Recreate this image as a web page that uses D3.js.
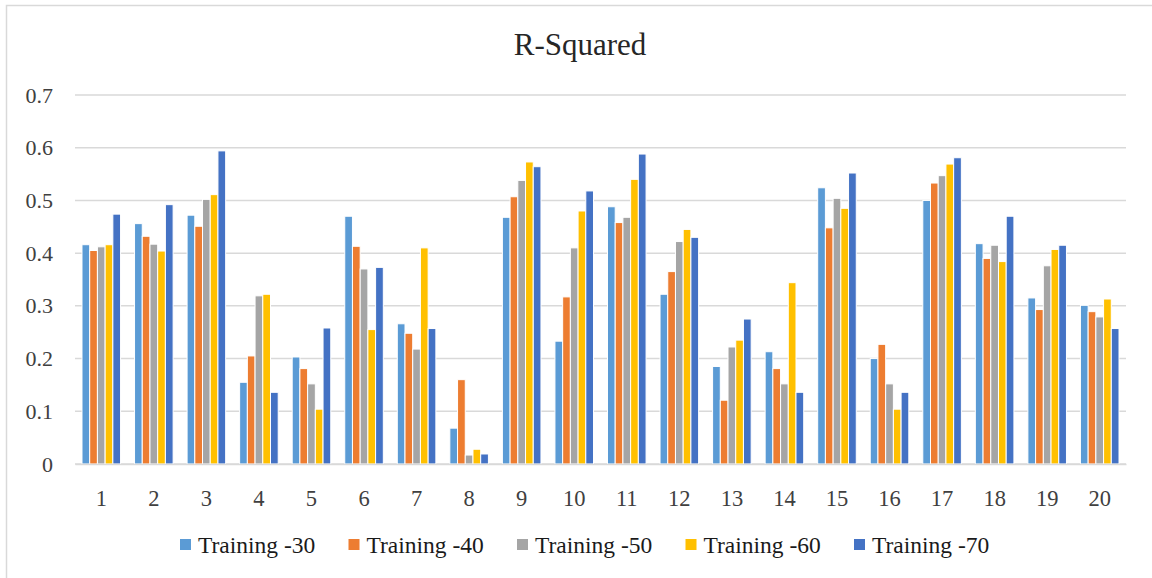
<!DOCTYPE html>
<html>
<head>
<meta charset="utf-8">
<script src="https://cdn.jsdelivr.net/npm/d3@7/dist/d3.min.js"></script>
<style>
  html, body { margin: 0; padding: 0; background: #fff; }
  svg { display: block; }
  text { font-family: "Times New Roman", "Liberation Serif", serif; }
</style>
</head>
<body>
<svg id="chart" width="1152" height="578"></svg>
<script>
// Run labels along the x axis
const categories = ["1","2","3","4","5","6","7","8","9","10","11","12","13","14","15","16","17","18","19","20"];

// Series names shown in the legend
const seriesNames = ["Training -30", "Training -40", "Training -50", "Training -60", "Training -70"];

// R-squared per run, one array per training split
const training30 = [0.416, 0.456, 0.472, 0.155, 0.203, 0.470, 0.266, 0.068, 0.468, 0.233, 0.488, 0.322, 0.185, 0.213, 0.524, 0.200, 0.500, 0.418, 0.315, 0.301];
const training40 = [0.405, 0.432, 0.451, 0.205, 0.181, 0.413, 0.248, 0.160, 0.507, 0.317, 0.458, 0.365, 0.121, 0.181, 0.448, 0.227, 0.533, 0.390, 0.293, 0.289];
const training50 = [0.412, 0.417, 0.502, 0.319, 0.152, 0.370, 0.218, 0.017, 0.538, 0.410, 0.468, 0.422, 0.222, 0.152, 0.504, 0.152, 0.547, 0.415, 0.376, 0.279];
const training60 = [0.416, 0.404, 0.511, 0.322, 0.104, 0.255, 0.410, 0.028, 0.573, 0.480, 0.540, 0.445, 0.235, 0.344, 0.485, 0.104, 0.569, 0.384, 0.407, 0.313];
const training70 = [0.474, 0.492, 0.594, 0.136, 0.258, 0.373, 0.257, 0.019, 0.564, 0.518, 0.588, 0.430, 0.275, 0.136, 0.552, 0.136, 0.581, 0.470, 0.415, 0.257];

// Y axis ticks and their labels
const yTicks = [0, 0.1, 0.2, 0.3, 0.4, 0.5, 0.6, 0.7];
const yTickLabels = ["0", "0.1", "0.2", "0.3", "0.4", "0.5", "0.6", "0.7"];

const chartTitle = "R-Squared";
const seriesValues = [training30, training40, training50, training60, training70];
const colors = ["#5B9BD5", "#ED7D31", "#A5A5A5", "#FFC000", "#4472C4"];

const svg = d3.select("#chart");

// Outer chart frame
svg.append("rect")
  .attr("x", 6.5).attr("y", 5.5)
  .attr("width", 1160).attr("height", 600)
  .attr("fill", "none")
  .attr("stroke", "#d9d9d9")
  .attr("stroke-width", 1.5);

const plot = { left: 75, right: 1126, top: 95, bottom: 464 };

const x0 = d3.scaleBand()
  .domain(categories)
  .range([plot.left, plot.right])
  .paddingInner(0.266)
  .paddingOuter(0.133);

const x1 = d3.scaleBand()
  .domain(d3.range(seriesNames.length))
  .range([0, x0.bandwidth()]);

const y = d3.scaleLinear()
  .domain([0, 0.7])
  .range([plot.bottom, plot.top]);

// Horizontal gridlines
svg.append("g")
  .selectAll("line")
  .data(yTicks)
  .join("line")
  .attr("x1", plot.left).attr("x2", plot.right)
  .attr("y1", d => y(d)).attr("y2", d => y(d))
  .attr("stroke", "#d9d9d9")
  .attr("stroke-width", 1.5);

// Y axis labels
const yAxis = d3.axisLeft(y)
  .tickValues(yTicks)
  .tickFormat((d, i) => yTickLabels[i])
  .tickSize(0)
  .tickPadding(22);
const gy = svg.append("g")
  .attr("transform", `translate(${plot.left},0)`)
  .call(yAxis);
gy.select(".domain").remove();
gy.selectAll("text")
  .attr("fill", "#404040")
  .attr("font-size", 22)
  .attr("font-family", "'Times New Roman', 'Liberation Serif', serif");

// Bars
const groups = svg.append("g")
  .selectAll("g")
  .data(categories)
  .join("g")
  .attr("transform", d => `translate(${x0(d)},0)`);

groups.selectAll("rect")
  .data((cat, ci) => seriesValues.map((vals, si) => ({ si, v: vals[ci] })))
  .join("rect")
  .attr("x", d => x1(d.si))
  .attr("width", x1.bandwidth())
  .attr("y", d => y(d.v))
  .attr("height", d => y(0) - y(d.v))
  .attr("fill", d => colors[d.si])
  .attr("stroke", "#ffffff")
  .attr("stroke-width", 1);

// X axis line and labels
const xAxis = d3.axisBottom(x0).tickSize(0).tickPadding(26);
const gx = svg.append("g")
  .attr("transform", `translate(0,${plot.bottom})`)
  .call(xAxis);
gx.select(".domain")
  .attr("stroke", "#d9d9d9")
  .attr("stroke-width", 1.5);
gx.selectAll("text")
  .attr("fill", "#404040")
  .attr("font-size", 22.5)
  .attr("font-family", "'Times New Roman', 'Liberation Serif', serif");

// Title
svg.append("text")
  .attr("x", 580)
  .attr("y", 55)
  .attr("text-anchor", "middle")
  .attr("font-size", 31)
  .attr("fill", "#262626")
  .text(chartTitle);

// Legend
const legendX = d3.scalePoint()
  .domain(seriesNames)
  .range([180, 854]);

const legend = svg.append("g")
  .selectAll("g")
  .data(seriesNames)
  .join("g")
  .attr("transform", d => `translate(${legendX(d)},545)`);

legend.append("rect")
  .attr("x", 0).attr("y", -6)
  .attr("width", 11).attr("height", 11)
  .attr("fill", (d, i) => colors[i]);

legend.append("text")
  .attr("x", 18)
  .attr("y", 8)
  .attr("font-size", 23.5)
  .attr("fill", "#1a1a1a")
  .text(d => d);
</script>
</body>
</html>
